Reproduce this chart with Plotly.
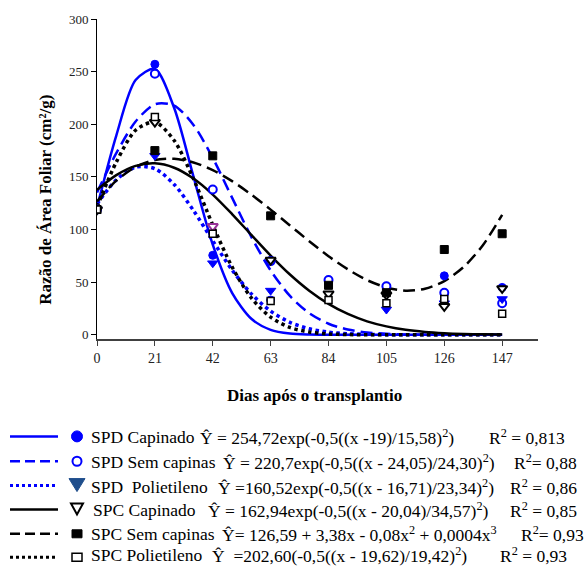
import plotly.graph_objects as go

# ---------------- data ----------------
days = [0, 21, 42, 63, 84, 105, 126, 147]
spd_capinado = [119, 257, 75.5, 33, 50, 46, 56, 45]
spd_sem_capinas = [119, 248, 138, 70, 52, 46, 40, 30]
spd_polietileno = [119, 170, 68, 42, 39, 24, 30, 34]
spc_capinado = [119, 202, 103, 71, 39, 38, 27, 44]
spc_sem_capinas = [119, 175, 170, 113, 47, 40, 81, 96]
spc_polietileno = [119, 207, 96, 32, 33, 30, 34, 20]

# fitted curves, every 7 days
curve_x = [0, 7, 14, 21, 28, 35, 42, 49, 56, 63, 70, 77, 84, 91, 98, 105, 112, 119, 126, 133, 140, 147]
fit_spd_capinado = [121.1, 189.3, 242.0, 252.6, 215.5, 150.3, 85.7, 39.9, 15.2, 4.7, 1.2, 0.3, 0.1, 0, 0, 0, 0, 0, 0, 0, 0, 0]
fit_spd_sem_capinas = [135.2, 172.5, 202.6, 219.0, 217.8, 199.4, 168.0, 130.3, 93.0, 61.1, 36.9, 20.5, 10.5, 5.0, 2.2, 1.0, 0.3, 0.1, 0, 0, 0, 0]
fit_spd_polietileno = [124.2, 147.2, 159.4, 157.8, 142.8, 118.1, 89.3, 61.6, 38.9, 22.5, 11.8, 5.7, 2.5, 1.0, 0.4, 0.1, 0, 0, 0, 0, 0, 0]
fit_spc_capinado = [137.7, 151.7, 160.5, 162.9, 158.7, 148.4, 133.2, 114.7, 94.9, 75.3, 57.3, 41.9, 29.4, 19.8, 12.8, 8.0, 4.7, 2.7, 1.5, 0.8, 0.4, 0.2]
fit_spc_sem_capinas = [126.6, 146.5, 159.4, 166.0, 167.2, 163.7, 156.4, 146.0, 133.2, 118.9, 103.9, 88.9, 74.6, 62.2, 51.9, 45.0, 41.9, 43.7, 51.0, 64.4, 85.1, 114.0]
fit_spc_polietileno = [121.6, 164.0, 194.3, 202.1, 184.6, 148.1, 104.3, 64.5, 35.0, 16.7, 7.0, 2.6, 0.8, 0.2, 0, 0, 0, 0, 0, 0, 0, 0]

x_ticks = [0, 21, 42, 63, 84, 105, 126, 147]
y_ticks = [0, 50, 100, 150, 200, 250, 300]

names = ["SPD Capinado", "SPD Sem capinas", "SPD\u00a0 Polietileno", "SPC Capinado", "SPC Sem capinas", "SPC Polietileno"]
formulas = [
    "Ŷ = 254,72exp(-0,5((x -19)/15,58)<sup>2</sup>)",
    "Ŷ = 220,7exp(-0,5((x - 24,05)/24,30)<sup>2</sup>)",
    "Ŷ =160,52exp(-0,5((x - 16,71)/23,34)<sup>2</sup>)",
    "Ŷ = 162,94exp(-0,5((x - 20,04)/34,57)<sup>2</sup>)",
    "Ŷ= 126,59 + 3,38x - 0,08x<sup>2</sup> + 0,0004x<sup>3</sup>",
    "Ŷ\u00a0 =202,60(-0,5((x - 19,62)/19,42)<sup>2</sup>)",
]
r2_texts = ["R<sup>2</sup> = 0,813", "R<sup>2</sup>= 0,88", "R<sup>2</sup> = 0,86",
            "R<sup>2</sup> = 0,85", "R<sup>2</sup>= 0,93", "R<sup>2</sup> = 0,93"]

# ---------------- styles ----------------
BLUE = "#0000FF"
W, H = 586, 570
L, R, T, B = 97, 48, 17, 231
PW, PH = W - L - R, H - T - B
SERIF = "Liberation Serif"
LEG_SIZE = 17.5

def px(x):
    return (x - L) / PW

def py(y):
    return (H - B - y) / PH

fits = [fit_spd_capinado, fit_spd_sem_capinas, fit_spd_polietileno,
        fit_spc_capinado, fit_spc_sem_capinas, fit_spc_polietileno]
obs = [spd_capinado, spd_sem_capinas, spd_polietileno,
       spc_capinado, spc_sem_capinas, spc_polietileno]
line_styles = [
    dict(color=BLUE, width=2.5, dash="solid"),
    dict(color=BLUE, width=2.5, dash="12px,6px"),
    dict(color=BLUE, width=3.5, dash="3.5px,3.5px"),
    dict(color="black", width=2.5, dash="solid"),
    dict(color="black", width=2.5, dash="12px,6px"),
    dict(color="black", width=3.5, dash="3.5px,3.5px"),
]
tri_line_colors = ["black", "black", "#993399", "black", "black", "black", "black", "black"]
marker_styles = [
    dict(symbol="circle", size=8, color=BLUE, line=dict(color=BLUE, width=1)),
    dict(symbol="circle", size=8, color="white", line=dict(color=BLUE, width=2)),
    dict(symbol="triangle-down", size=9, color=BLUE, line=dict(color=BLUE, width=1)),
    dict(symbol="triangle-down", size=9, color="white", line=dict(color=tri_line_colors, width=2)),
    dict(symbol="square", size=8, color="black", line=dict(color="black", width=1)),
    dict(symbol="square", size=7, color="white", line=dict(color="black", width=1.5)),
]

fig = go.Figure()
for f, ls in zip(fits, line_styles):
    fig.add_trace(go.Scatter(x=curve_x, y=f, mode="lines", line=dict(shape="spline", smoothing=0.8, **ls),
                             showlegend=False, hoverinfo="skip"))
for o, ms in zip(obs, marker_styles):
    fig.add_trace(go.Scatter(x=days, y=o, mode="markers", marker=ms, showlegend=False))

fig.update_layout(
    width=W, height=H,
    margin=dict(l=L, r=R, t=T, b=B, pad=0),
    paper_bgcolor="white", plot_bgcolor="white",
    font=dict(family=SERIF, size=13, color="#222"),
    xaxis=dict(range=[0, 160], tickvals=x_ticks, ticks="outside", ticklen=5, tickcolor="#404040",
               showline=True, linecolor="#404040", linewidth=1.5, showgrid=False, zeroline=False,
               tickfont=dict(family=SERIF, size=14, color="#222")),
    yaxis=dict(range=[-4, 300], tickvals=y_ticks, ticks="outside", ticklen=5, tickcolor="black",
               showline=True, linecolor="black", linewidth=1, showgrid=False, zeroline=False,
               tickfont=dict(family=SERIF, size=13, color="#222")),
)

annotations = [
    dict(text="<b>Dias após o transplantio</b>", x=px(314), y=py(396), xref="paper", yref="paper",
         showarrow=False, font=dict(family=SERIF, size=17, color="black"), xanchor="center", yanchor="middle"),
    dict(text="<b>Razão de Área Foliar (cm²/g)</b>", x=px(46), y=py(199), xref="paper", yref="paper",
         showarrow=False, textangle=-90, font=dict(family=SERIF, size=17, color="black"),
         xanchor="center", yanchor="middle"),
]
shapes = []

row_y = [437, 462, 486.5, 510.5, 535, 558.5]
text_y = [438, 463, 487.5, 511.5, 535.5, 556.5]
name_x = [90, 90, 90, 92, 90, 90]
formula_x = [199, 222, 217, 207, 221, 211]
r2_right = [566, 578, 578, 578, 585, 568]

legend_line_styles = [
    dict(color=BLUE, width=2.5, dash="solid"),
    dict(color=BLUE, width=2.5, dash="10px,5px"),
    dict(color=BLUE, width=3, dash="3px,3px"),
    dict(color="black", width=2.5, dash="solid"),
    dict(color="black", width=2.5, dash="10px,5px"),
    dict(color="black", width=3, dash="3px,3px"),
]

for i in range(6):
    yy = row_y[i]
    shapes.append(dict(type="line", xref="paper", yref="paper", x0=px(10), x1=px(58), y0=py(yy), y1=py(yy),
                       line=legend_line_styles[i]))
    ty = py(text_y[i])
    fnt = dict(family=SERIF, size=LEG_SIZE, color="black")
    annotations.append(dict(text=names[i], x=px(name_x[i]), y=ty, xref="paper", yref="paper", showarrow=False,
                            xanchor="left", yanchor="middle", font=fnt, borderpad=0))
    annotations.append(dict(text=formulas[i], x=px(formula_x[i]), y=ty, xref="paper", yref="paper", showarrow=False,
                            xanchor="left", yanchor="middle", font=fnt, borderpad=0))
    annotations.append(dict(text=r2_texts[i], x=px(r2_right[i]), y=ty, xref="paper", yref="paper", showarrow=False,
                            xanchor="right", yanchor="middle", font=fnt, borderpad=0))

# legend marker symbols (pixel-sized shapes anchored in paper coords)
mx = px(77)
def pix_shape(kind, anchor_y, path=None, x0=-5, x1=5, y0=-5, y1=5, fill="black", line_color="black", lw=1):
    d = dict(type=kind, xref="paper", yref="paper", xsizemode="pixel", ysizemode="pixel",
             xanchor=mx, yanchor=anchor_y, fillcolor=fill, line=dict(color=line_color, width=lw))
    if path:
        d["path"] = path
    else:
        d.update(x0=x0, x1=x1, y0=y0, y1=y1)
    return d

shapes.append(pix_shape("circle", py(row_y[0]), x0=-5.5, x1=5.5, y0=-5.5, y1=5.5, fill=BLUE, line_color=BLUE))
shapes.append(pix_shape("circle", py(row_y[1]), x0=-4.5, x1=4.5, y0=-4.5, y1=4.5, fill="white", line_color=BLUE, lw=2))
shapes.append(pix_shape("path", py(row_y[2] - 1), path="M-8,6 L8,6 L0,-7 Z", fill="#1F4E8C", line_color="#1F4E8C"))
shapes.append(pix_shape("path", py(row_y[3] - 1), path="M-6,5 L6,5 L0,-6 Z", fill="white", line_color="black", lw=2))
shapes.append(pix_shape("rect", py(row_y[4]), x0=-5, x1=5, y0=-4, y1=4, fill="black", line_color="black"))
shapes.append(pix_shape("rect", py(row_y[5]), x0=-5, x1=5, y0=-4, y1=4, fill="white", line_color="black", lw=1.5))

fig.update_layout(annotations=annotations, shapes=shapes)
fig.write_html("out.html")
